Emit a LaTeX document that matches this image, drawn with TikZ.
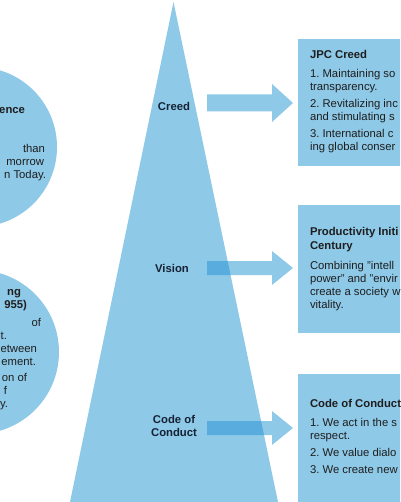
\documentclass[tikz,border=0pt]{standalone}
\usepackage{fontspec}
\setmainfont{Liberation Sans}
\definecolor{lb}{RGB}{142,201,232}
\definecolor{db}{RGB}{88,172,222}
\definecolor{navy}{RGB}{22,34,52}
\definecolor{txt}{RGB}{30,30,30}
\newcommand\txtW[3]{\node[anchor=base west,txtsty] at (#1,#2) {#3};}
\newcommand\txtE[3]{\node[anchor=base east,txtsty] at (#1,#2) {#3};}
\newcommand\arrowshape[3]{(207,#1-#2) -- (272,#1-#2) -- (272,#1-#3) -- (293,#1) -- (272,#1+#3) -- (272,#1+#2) -- (207,#1+#2) -- cycle}
\begin{document}
\begin{tikzpicture}[x=1pt,y=-1pt,
  txtsty/.style={inner sep=0pt,outer sep=0pt,text=txt,font=\fontsize{11.3}{13}\selectfont\frenchspacing},
  lbl/.style={inner sep=0pt,text=navy,font=\fontsize{11.3}{13}\selectfont\bfseries,align=center}]
\useasboundingbox (0,0) rectangle (400,502);
\clip (0,0) rectangle (400,502);
% circles
\fill[lb] (-23,147) circle (80);
\fill[lb] (-23,352) circle (82);
% triangle
\coordinate (apex) at (173.5,2);
\coordinate (bl) at (70,502);
\coordinate (br) at (278,502);
\fill[lb] (apex) -- (br) -- (bl) -- cycle;
% arrows
\fill[lb] \arrowshape{103}{8.5}{19};
\fill[lb] \arrowshape{268}{7}{17};
\fill[lb] \arrowshape{428}{7}{17};
\begin{scope}
\clip (apex) -- (br) -- (bl) -- cycle;
\fill[db] \arrowshape{103}{8.5}{19};
\fill[db] \arrowshape{268}{7}{17};
\fill[db] \arrowshape{428}{7}{17};
\end{scope}
% boxes
\fill[lb] (298,39) rectangle (410,166);
\fill[lb] (298,205) rectangle (410,333);
\fill[lb] (298,374) rectangle (410,510);
% triangle labels
\node[lbl] (creed) at (174,106) {Creed};
\node[lbl] (vision) at (172,268) {Vision};
\node[lbl] (code) at (174,426) {Code of\\Conduct};
% box 1
\txtW{310}{59}{\bfseries JPC Creed}
\txtW{310}{78}{1. Maintaining so}
\txtW{310}{91}{transparency.}
\txtW{310}{108}{2. Revitalizing inc}
\txtW{310}{121}{and stimulating s}
\txtW{310}{138}{3. International c}
\txtW{310}{151}{ing global conser}
% box 2
\txtW{310}{236}{\bfseries Productivity Initi}
\txtW{310}{249}{\bfseries Century}
\txtW{310}{269}{Combining "intell}
\txtW{310}{282}{power" and "envir}
\txtW{310}{295}{create a society w}
\txtW{310}{308}{vitality.}
% box 3
\txtW{310}{407}{\bfseries Code of Conduct}
\txtW{310}{426}{1. We act in the s}
\txtW{310}{439}{respect.}
\txtW{310}{456}{2. We value dialo}
\txtW{310}{473}{3. We create new}
% circle 1
\txtE{25}{114}{\bfseries ence}
\txtE{45}{153}{than}
\txtE{44}{166}{morrow}
\txtE{46}{179}{n Today.}
% circle 2
\txtE{21}{295}{\bfseries ng}
\txtE{27}{308}{\bfseries 955)}
\txtE{41}{326}{of}
\txtE{7}{339}{t.}
\txtE{37}{352}{etween}
\txtE{36}{365}{ement.}
\txtE{27}{381}{on of}
\txtE{7}{394}{f}
\txtE{8}{407}{y.}
\end{tikzpicture}
\end{document}
